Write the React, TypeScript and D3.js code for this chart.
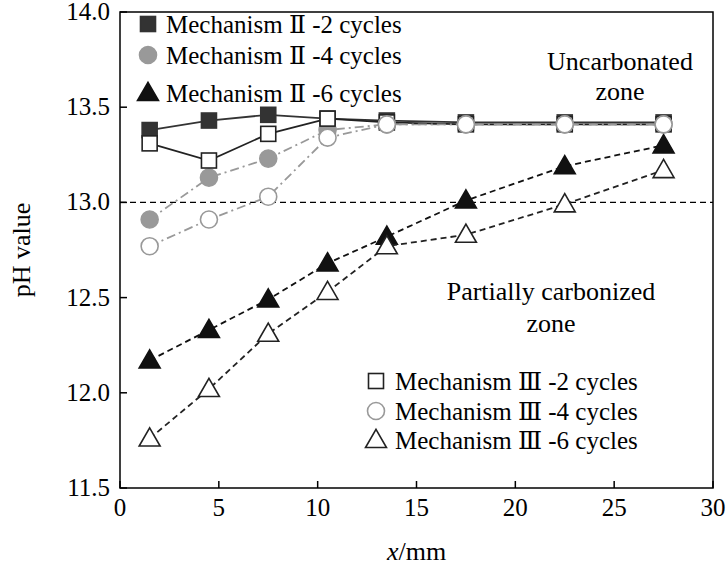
import * as d3 from "d3";

const xs = [1.5, 4.5, 7.5, 10.5, 13.5, 17.5, 22.5, 27.5];
const m2c2 = [13.38, 13.43, 13.46, 13.44, 13.43, 13.42, 13.42, 13.42];
const m2c4 = [12.91, 13.13, 13.23, 13.38, 13.41, 13.41, 13.41, 13.41];
const m2c6 = [12.17, 12.33, 12.49, 12.68, 12.82, 13.01, 13.19, 13.3];
const m3c2 = [13.31, 13.22, 13.36, 13.44, 13.42, 13.41, 13.41, 13.41];
const m3c4 = [12.77, 12.91, 13.03, 13.34, 13.41, 13.41, 13.41, 13.41];
const m3c6 = [11.76, 12.02, 12.31, 12.53, 12.77, 12.83, 12.99, 13.17];
const xTicks = [0, 5, 10, 15, 20, 25, 30];
const yTicks = [11.5, 12.0, 12.5, 13.0, 13.5, 14.0];

type S = { label: string; ys: number[]; shape: string; fill: string; stroke: string; dash: string; line: string };
const series: S[] = [
  { label: "Mechanism Ⅱ -2 cycles", ys: m2c2, shape: "sq", fill: "#333", stroke: "#333", dash: "", line: "#333" },
  { label: "Mechanism Ⅱ -4 cycles", ys: m2c4, shape: "ci", fill: "#999", stroke: "#999", dash: "9,4,2,4", line: "#999" },
  { label: "Mechanism Ⅱ -6 cycles", ys: m2c6, shape: "tr", fill: "#111", stroke: "#111", dash: "6,4", line: "#111" },
  { label: "Mechanism Ⅲ -2 cycles", ys: m3c2, shape: "sq", fill: "#fff", stroke: "#222", dash: "", line: "#222" },
  { label: "Mechanism Ⅲ -4 cycles", ys: m3c4, shape: "ci", fill: "#fff", stroke: "#999", dash: "9,4,2,4", line: "#999" },
  { label: "Mechanism Ⅲ -6 cycles", ys: m3c6, shape: "tr", fill: "#fff", stroke: "#222", dash: "6,4", line: "#222" },
];

const L = 120, R = 713, T = 12, B = 488;
const x = d3.scaleLinear().domain([0, 30]).range([L, R]);
const y = d3.scaleLinear().domain([11.5, 14]).range([B, T]);
const font = "'Liberation Serif', 'DejaVu Serif', 'Times New Roman', serif";

function Marker({ shape, cx, cy, fill, stroke }: { shape: string; cx: number; cy: number; fill: string; stroke: string }) {
  if (shape === "sq") return <rect x={cx - 7.5} y={cy - 7.5} width={15} height={15} fill={fill} stroke={stroke} strokeWidth={1.6} />;
  if (shape === "ci") return <circle cx={cx} cy={cy} r={8.5} fill={fill} stroke={stroke} strokeWidth={1.6} />;
  const p = d3.symbol(d3.symbolTriangle, 190)();
  return <path d={p || ""} transform={`translate(${cx},${cy + 1.5})`} fill={fill} stroke={stroke} strokeWidth={1.6} />;
}

export default function App() {
  const line = d3.line<number>().x((_, i) => x(xs[i])).y((d) => y(d));
  const leg1 = [24, 55, 93];
  const leg2 = [381, 411, 440];
  return (
    <svg width={726} height={569} style={{ position: "absolute", left: 0, top: 0, background: "#fff", fontFamily: font }}>
      <line x1={L} x2={R} y1={y(13)} y2={y(13)} stroke="#000" strokeWidth={1.2} strokeDasharray="6,4" />
      {series.map((s, k) => (
        <g key={k}>
          <path d={line(s.ys) || ""} fill="none" stroke={s.line} strokeWidth={1.8} strokeDasharray={s.dash} />
          {s.ys.map((v, i) => <Marker key={i} shape={s.shape} cx={x(xs[i])} cy={y(v)} fill={s.fill} stroke={s.stroke} />)}
        </g>
      ))}
      <rect x={L} y={T} width={R - L} height={B - T} fill="none" stroke="#000" strokeWidth={1.5} />
      {xTicks.map((t) => (
        <g key={t}>
          <line x1={x(t)} x2={x(t)} y1={B} y2={B - 7} stroke="#000" strokeWidth={1.5} />
          <text x={x(t)} y={B + 28} fontSize={25} textAnchor="middle">{t}</text>
        </g>
      ))}
      {yTicks.map((t) => (
        <g key={t}>
          <line x1={L} x2={L + 7} y1={y(t)} y2={y(t)} stroke="#000" strokeWidth={1.5} />
          <text x={L - 10} y={y(t) + 8} fontSize={25} textAnchor="end">{t.toFixed(1)}</text>
        </g>
      ))}
      <text transform={`translate(30,${(T + B) / 2}) rotate(-90)`} fontSize={26} textAnchor="middle">pH value</text>
      <text x={(L + R) / 2} y={560} fontSize={26} textAnchor="middle"><tspan fontStyle="italic">x</tspan>/mm</text>
      {series.slice(0, 3).map((s, i) => (
        <g key={i}>
          <Marker shape={s.shape} cx={148} cy={leg1[i]} fill={s.fill} stroke={s.stroke} />
          <text x={166} y={leg1[i] + 9} fontSize={25}>{s.label}</text>
        </g>
      ))}
      {series.slice(3).map((s, i) => (
        <g key={i}>
          <Marker shape={s.shape} cx={376} cy={leg2[i]} fill={s.fill} stroke={s.stroke} />
          <text x={395} y={leg2[i] + 9} fontSize={25}>{s.label}</text>
        </g>
      ))}
      <text x={620} y={70} fontSize={26} textAnchor="middle">Uncarbonated</text>
      <text x={620} y={100} fontSize={26} textAnchor="middle">zone</text>
      <text x={551} y={300} fontSize={26} textAnchor="middle">Partially carbonized</text>
      <text x={551} y={332} fontSize={26} textAnchor="middle">zone</text>
    </svg>
  );
}
